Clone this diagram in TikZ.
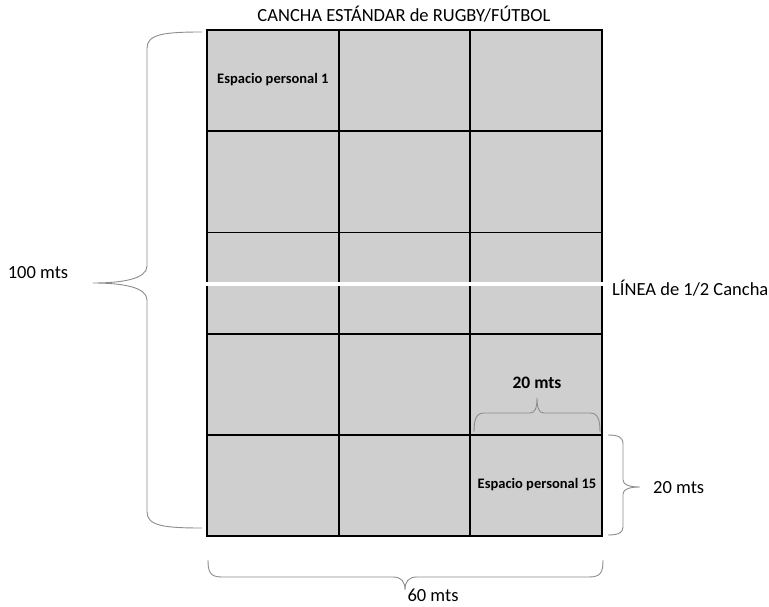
\documentclass[tikz,border=0pt]{standalone}
\usepackage{fontspec}
\setmainfont{Carlito}
\newcommand{\xl}{207}
\newcommand{\xr}{602}
\newcommand{\yt}{30}
\newcommand{\yb}{536}
\newcommand{\cw}{131.67}
\newcommand{\rh}{101.2}
\newcommand{\fieldcolor}{black!19!white}
\newcommand{\bracecolor}{black!45!white}

\begin{document}
\begin{tikzpicture}[x=1pt, y=-1pt,
    txt/.style={font=\fontsize{18.5}{22}\selectfont, inner sep=0pt},
    bold/.style={font=\fontsize{17.5}{21}\selectfont\bfseries, inner sep=0pt},
    small/.style={font=\fontsize{14.5}{17}\selectfont\bfseries, inner sep=0pt},
    gridline/.style={line width=1.8pt},
    bracket/.style={\bracecolor, line width=0.9pt}]
        \useasboundingbox (0,0) rectangle (769,607);
        \coordinate (NW) at (\xl, \yt);
        \coordinate (SE) at (\xr, \yb);

        % field
        \fill[\fieldcolor] (NW) rectangle (SE);
        \foreach \x in {1, 2}
            \draw[gridline] (\xl+\x*\cw, \yt) -- (\xl+\x*\cw, \yb);
        \foreach \y in {1, 2, 3, 4}
            \draw[gridline] (\xl, \yt+\y*\rh) -- (\xr, \yt+\y*\rh);
        \draw[gridline] (NW) rectangle (SE);

        % half line
        \draw[white, line width=4pt] (\xl-2, 284) -- (\xr+2, 284);

        % braces
        \draw[bracket] (202,32) .. controls (165,32) and (147,34) .. (147,48) -- (147,266)
            .. controls (147,279) and (122,283) .. (93,283)
            .. controls (122,283) and (147,287) .. (147,300) -- (147,512)
            .. controls (147,526) and (165,528) .. (202,528);
        \draw[bracket] (208,560) .. controls (208,572) and (210,577) .. (222,577) -- (393,577)
            .. controls (402,577) and (405,582) .. (405,590)
            .. controls (405,582) and (408,577) .. (417,577) -- (589,577)
            .. controls (601,577) and (603,572) .. (603,560);
        \draw[bracket] (608,435) .. controls (618,435) and (623,437) .. (623,444) -- (623,480)
            .. controls (623,485) and (630,487) .. (640,487)
            .. controls (630,487) and (623,489) .. (623,494) -- (623,527)
            .. controls (623,533) and (618,535) .. (608,535);
        \draw[bracket] (474,432) .. controls (474,420) and (476,413) .. (484,413) -- (530,413)
            .. controls (535,413) and (537,408) .. (537,398)
            .. controls (537,408) and (539,413) .. (544,413) -- (590,413)
            .. controls (598,413) and (600,420) .. (600,432);

        % labels
        \node[txt] (title) at (404,14) {CANCHA ESTÁNDAR de RUGBY/FÚTBOL};
        \node[txt] (len) at (38,273) {100 mts};
        \node[txt] (wid) at (433,595) {60 mts};
        \node[txt, anchor=west] (half) at (612,288) {LÍNEA de 1/2 Cancha};
        \node[txt, anchor=west] (side) at (653,488) {20 mts};
        \node[bold] (top) at (537,383) {20 mts};
        \node[small, anchor=west] (esp1) at (217,80) {Espacio personal 1};
        \node[small] (esp15) at (537,485) {Espacio personal 15};
    \end{tikzpicture}
\end{document}
